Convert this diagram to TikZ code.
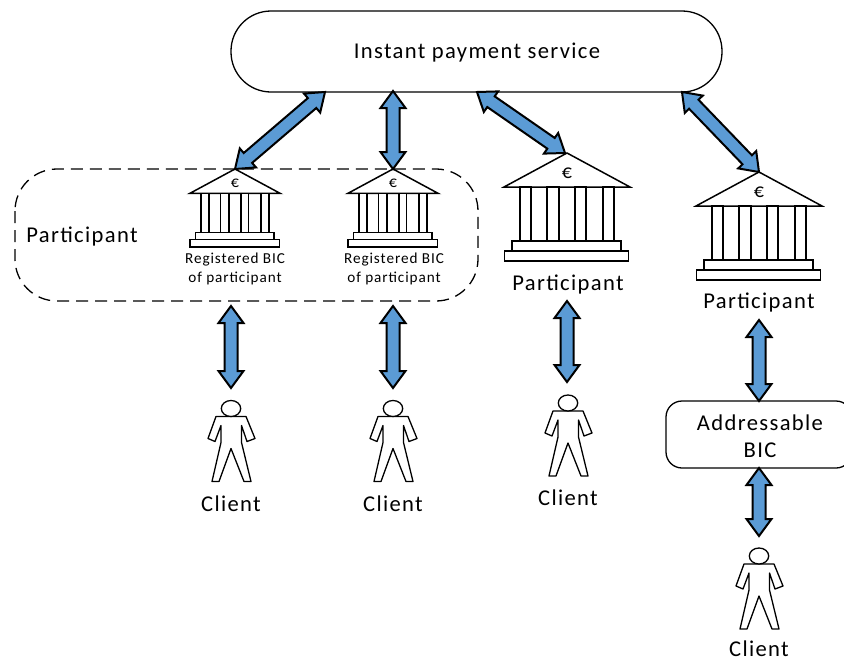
\documentclass[tikz,border=0pt]{standalone}
\usepackage{fontspec}
\setmainfont{Carlito}
\newfontfamily\wide[LetterSpace=6]{Carlito}
\usetikzlibrary{calc}
\definecolor{arrowblue}{HTML}{5B9BD5}
\newcommand\lbl[1]{\fontsize{#1}{#1}\selectfont\wide}
\tikzset{
  x=1pt,y=-1pt,
  box/.style={draw=black,line width=1.3pt,fill=white,inner sep=0pt,rounded corners=#1},
  txt/.style={font=\lbl{22.6},inner sep=0pt,align=center},
  small/.style={font=\lbl{15.2},inner sep=0pt,align=center},
  blockarrow/.style={draw=black,line width=2pt,fill=arrowblue,line join=miter,miter limit=6},
  bankline/.style={draw=black,line width=1.5pt,fill=white,line join=miter},
  pics/bank/.style={code={
    \draw[bankline] (0,0) -- (63,34) -- (-63,34) -- cycle;
    \foreach \a/\b in {-47/-36,-20/-8,8/19,36/47}{
      \draw[bankline] (\a,34) rectangle (\b,88);
    }
    \draw[bankline] (-55,88) rectangle (54,98);
    \draw[bankline] (-62.5,98) rectangle (61.5,108);
    \node[font=\fontsize{#1}{#1}\selectfont,inner sep=0pt] (-euro) at (0,20) {€};
    \coordinate (-apex) at (0,0);
  }},
  pics/person/.style={code={
    \draw[line width=1.3pt,fill=white,line join=round]
      (-15,16) -- (-23,38) -- (-16,41) -- (-10,25) -- (-10,42) -- (-19,81) -- (-12,81) -- (0,48)
      -- (13,81) -- (20,81) -- (10.5,42) -- (10.5,25) -- (16,41) -- (24,38) -- (15,16) -- cycle;
    \draw[line width=1.3pt,fill=white] (0,8) ellipse (9.7 and 8);
  }},
}
% double block arrow between two named points
\newcommand\dblarrow[2]{%
  \draw[blockarrow]
    (#1)
    -- ($(#1)!17pt!(#2)!12.5pt!90:(#2)$)
    -- ($(#1)!17pt!(#2)!6.5pt!90:(#2)$)
    -- ($(#2)!17pt!(#1)!6.5pt!-90:(#1)$)
    -- ($(#2)!17pt!(#1)!12.5pt!-90:(#1)$)
    -- (#2)
    -- ($(#2)!17pt!(#1)!12.5pt!90:(#1)$)
    -- ($(#2)!17pt!(#1)!6.5pt!90:(#1)$)
    -- ($(#1)!17pt!(#2)!6.5pt!-90:(#2)$)
    -- ($(#1)!17pt!(#2)!12.5pt!-90:(#2)$)
    -- cycle;}
\begin{document}
\begin{tikzpicture}
\useasboundingbox[fill=white] (0,0) rectangle (844,659);

% service
\draw[box=40pt] (231,11) rectangle (722,92);
\node[txt] (service) at (477,52.5) {Instant payment service};
\coordinate (s1) at (325,92);
\coordinate (s2) at (393,91);
\coordinate (s3) at (477,92);
\coordinate (s4) at (682,92);

% participant group
\draw[line width=1.3pt,dash pattern=on 12pt off 7pt,rounded corners=42pt] (15,169) rectangle (478,301);
\node[txt] (grp) at (82,237) {Participant};

% banks
\pic[scale=0.72] (b1) at (235,169) {bank=16};
\pic[scale=0.72] (b2) at (393,169) {bank=16};
\pic (b3) at (567,153) {bank=20};
\pic (b4) at (759,172) {bank=20};

\node[small] (r1) at (235,269) {Registered BIC\\[3pt]of participant};
\node[small] (r2) at (394,269) {Registered BIC\\[3pt]of participant};
\node[txt] (p3) at (568,284.5) {Participant};
\node[txt] (p4) at (759,302.5) {Participant};

% addressable box, running off the right edge as in the picture
\begin{scope}
\clip (0,0) rectangle (844,659);
\draw[box=16pt] (666,401) rectangle (852,468);
\end{scope}
\node[txt,align=center] (addr) at (760,436) {Addressable\\[4pt]BIC};

% persons
\pic (c1) at (231,400.5) {person};
\pic (c2) at (393,400.5) {person};
\pic (c3) at (568,395) {person};
\pic (c4) at (759,548) {person};
\node[txt] (l1) at (231,503.5) {Client};
\node[txt] (l2) at (393,503.5) {Client};
\node[txt] (l3) at (568,497.5) {Client};
\node[txt] (l4) at (759,648.5) {Client};

% connector ends
\coordinate (t1) at (231,306); \coordinate (u1) at (231,388);
\coordinate (t2) at (393,306); \coordinate (u2) at (393,388);
\coordinate (t3) at (567,301); \coordinate (u3) at (567,382);
\coordinate (t4) at (759,320); \coordinate (u4) at (759,401);
\coordinate (t5) at (759,468); \coordinate (u5) at (759,536);
\coordinate (a3) at (565,153);

\dblarrow{s1}{b1-apex}
\dblarrow{s2}{b2-apex}
\dblarrow{s3}{a3}
\dblarrow{s4}{b4-apex}
\dblarrow{t1}{u1}
\dblarrow{t2}{u2}
\dblarrow{t3}{u3}
\dblarrow{t4}{u4}
\dblarrow{t5}{u5}
\end{tikzpicture}
\end{document}
